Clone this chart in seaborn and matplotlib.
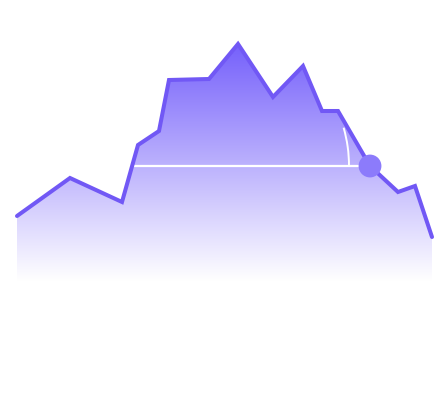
import numpy as np
import pandas as pd
import matplotlib
matplotlib.use("Agg")
import matplotlib.pyplot as plt
import seaborn as sns
from matplotlib.colors import LinearSegmentedColormap
from matplotlib.patches import Arc

# --- data (x position, value) ---
xs = [17, 70, 122, 138, 159, 169, 209, 238, 273, 303, 322, 338, 370, 398, 415, 432]
vals = [203, 241, 217, 274, 288, 339, 340, 375, 322, 353, 308, 308, 253, 227, 233, 182]
marker_idx = 12          # highlighted point
fill_floor = 130         # where the gradient fades out

df = pd.DataFrame({"x": xs, "v": vals})
line_c = "#7158f5"; dot_c = "#8c7bfb"; top_c = "#7560fb"

sns.set_style("white")
fig = plt.figure(figsize=(4.48, 4.19), dpi=100)
ax = fig.add_axes([0, 0, 1, 1])
ax.set_xlim(0, 448); ax.set_ylim(0, 419)
ax.axis("off")

# gradient area, clipped to the polygon under the line
poly = ax.fill_between(df["x"], df["v"], fill_floor, color="none", lw=0)
cmap = LinearSegmentedColormap.from_list("grad", ["#ffffff", top_c])
grad = np.linspace(0, 1, 256).reshape(-1, 1)
img = ax.imshow(grad, cmap=cmap, aspect="auto", origin="lower",
                extent=[min(xs), max(xs), fill_floor + 8, max(vals)], zorder=1)
img.set_clip_path(poly.get_paths()[0], transform=ax.transData)

# horizontal reference line from the crossing on the rise to the marked point
mx, mv = xs[marker_idx], vals[marker_idx]
cross_x = np.interp(mv, [vals[2], vals[3]], [xs[2], xs[3]])
ax.plot([cross_x, mx], [mv, mv], color="white", lw=1.6, zorder=2)
arc = Arc((mx - 160, mv), 2 * 139, 2 * 139, theta1=0, theta2=16,
          color="white", lw=1.4, zorder=2)
ax.add_patch(arc)

sns.lineplot(data=df, x="x", y="v", ax=ax, color=line_c, lw=2.9,
             solid_capstyle="round", solid_joinstyle="miter", zorder=3)
sns.scatterplot(x=[mx], y=[mv], ax=ax, color=dot_c, s=270, edgecolor="none", zorder=4)
ax.set_xlim(0, 448); ax.set_ylim(0, 419)
ax.axis("off")

fig.savefig("out.png", dpi=100)
